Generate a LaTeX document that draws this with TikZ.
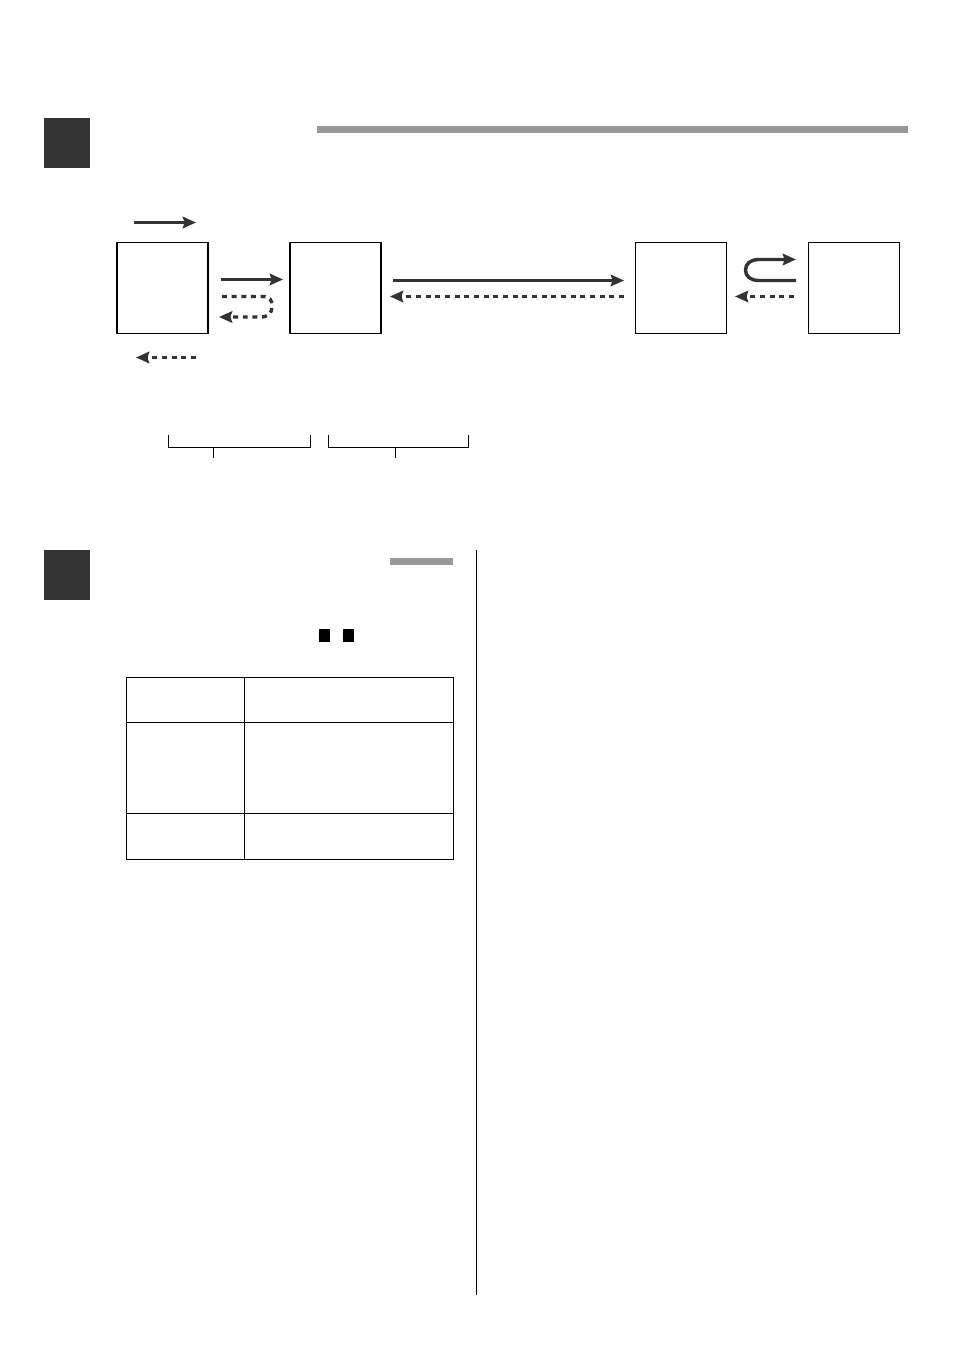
\documentclass[tikz,border=0pt]{standalone}
\usepackage{amsmath}
\usetikzlibrary{arrows.meta}

\definecolor{headdark}{HTML}{333333}
\definecolor{bargray}{HTML}{999999}

\tikzset{
    unitbox/.style={draw,line width=0.7pt,minimum size=1.82cm,inner sep=0pt,outer sep=0pt},
    cellbox/.style={draw,line width=0.55pt,inner sep=0pt,outer sep=0pt},
    flowline/.style={draw=headdark,line width=1.95pt,-{Stealth[length=7.5pt,width=6.5pt,inset=1pt]}},
    backline/.style={flowline,dash pattern=on 2.8pt off 2.7pt},
    bracket/.style={line width=0.55pt}
}

\begin{document}
\begin{tikzpicture}[x=0.02cm,y=-0.02cm]

            %\draw [help lines] (0,0) grid (954,1351);
            \useasboundingbox (0,0) rectangle (954,1351);

            % headings
            \fill[headdark] (44,118) rectangle (90,168);
            \fill[headdark] (44,550) rectangle (90,600);
            \fill[bargray] (317,126) rectangle (908,133);
            \fill[bargray] (390,558) rectangle (453,565);
            \fill (319,629) rectangle (330,642);
            \fill (343,629) rectangle (354,642);

            \path   (162.5,288) node (a) [unitbox] {}
                    (335.5,288) node (b) [unitbox] {}
                    (681,288) node (c) [unitbox] {}
                    (853.8,288) node (d) [unitbox] {};

            \path   (134,222.5) coordinate (t1) (196,222.5) coordinate (t2)
                    (196,357.5) coordinate (u1) (136,357.5) coordinate (u2)
                    (221,279.5) coordinate (e1) (283,279.5) coordinate (e2)
                    (222,296.5) coordinate (f1) (219,317) coordinate (f2)
                    (393,280.5) coordinate (g1) (624,280.5) coordinate (g2)
                    (624,296.5) coordinate (h1) (390,296.5) coordinate (h2)
                    (796,280.5) coordinate (i1) (796,259.5) coordinate (i2)
                    (794,296.5) coordinate (j1) (735,296.5) coordinate (j2);

            \draw[flowline] (t1) -- (t2);
            \draw[backline] (u1) -- (u2);
            \draw[flowline] (e1) -- (e2);
            \draw[backline] (f1) -- (262,296.5) .. controls (270,296.5) and (272,300) .. (272,306)
                    .. controls (272,313) and (269,317) .. (260,317) -- (f2);
            \draw[flowline] (g1) -- (g2);
            \draw[backline] (h1) -- (h2);
            \draw[flowline] (i1) -- (759,280.5) .. controls (750,280.5) and (745.5,276) .. (745.5,270)
                    .. controls (745.5,264) and (750,259.5) .. (759,259.5) -- (i2);
            \draw[backline] (j1) -- (j2);

            % brackets
            \draw[bracket] (168.8,435) -- (168.8,447.5) -- (310.5,447.5) -- (310.5,435);
            \draw[bracket] (213.5,447.5) -- (213.5,458);
            \draw[bracket] (328.5,435) -- (328.5,447.5) -- (468.5,447.5) -- (468.5,435);
            \draw[bracket] (395.5,447.5) -- (395.5,458);

            % table
            \path   (126.5,677.5) node (p) [cellbox,anchor=north west,minimum width=2.36cm,minimum height=0.89cm] {}
                    (244.5,677.5) node (q) [cellbox,anchor=north west,minimum width=4.18cm,minimum height=0.89cm] {}
                    (126.5,722) node (r) [cellbox,anchor=north west,minimum width=2.36cm,minimum height=1.82cm] {}
                    (244.5,722) node (s) [cellbox,anchor=north west,minimum width=4.18cm,minimum height=1.82cm] {}
                    (126.5,813) node (v) [cellbox,anchor=north west,minimum width=2.36cm,minimum height=0.92cm] {}
                    (244.5,813) node (w) [cellbox,anchor=north west,minimum width=4.18cm,minimum height=0.92cm] {};

            % column rule
            \draw[line width=0.6pt] (476.5,550) -- (476.5,1295);

\end{tikzpicture}
\end{document}
